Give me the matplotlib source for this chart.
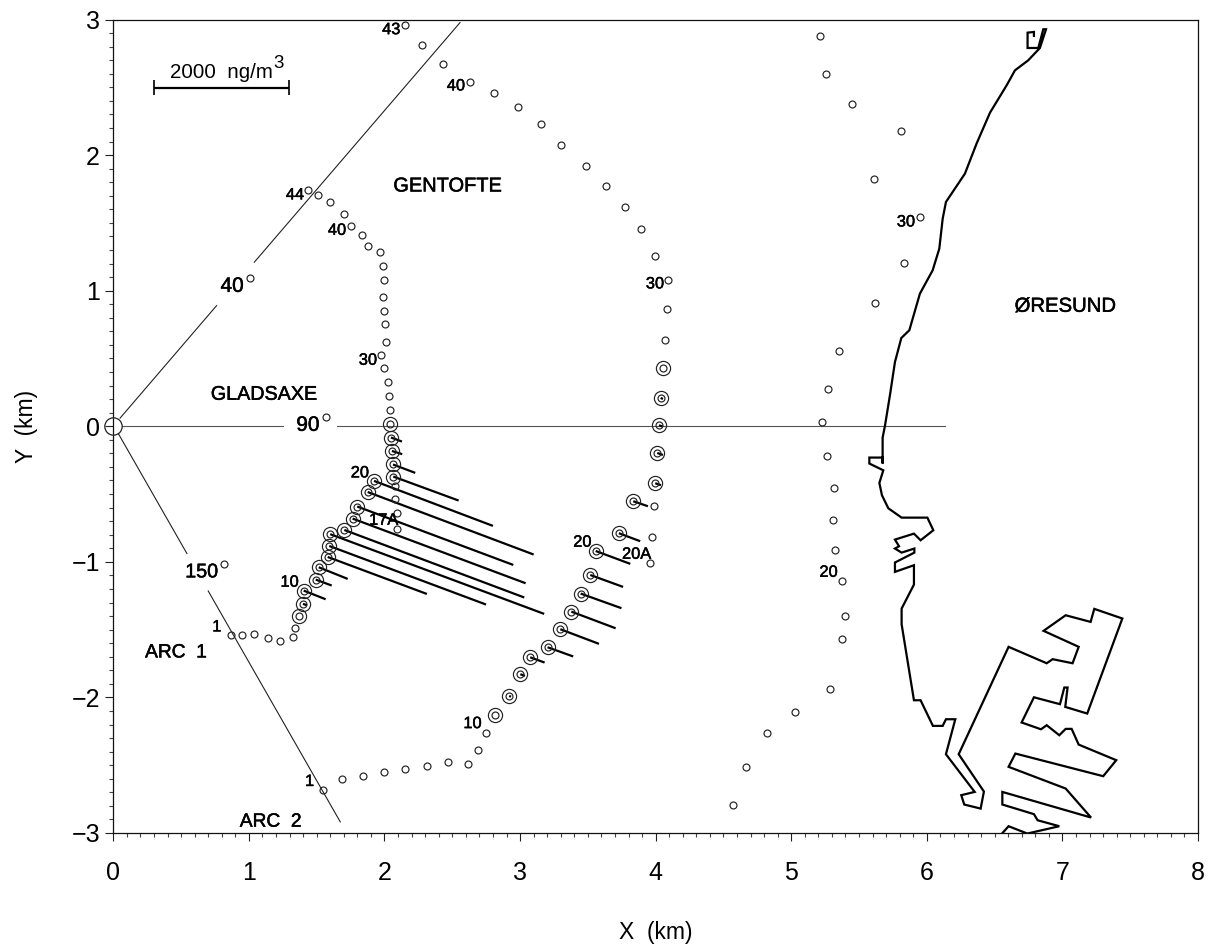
import matplotlib
matplotlib.use("Agg")
import matplotlib.pyplot as plt
import matplotlib.patheffects as pe
from matplotlib.ticker import MultipleLocator

plt.rcParams['font.family'] = ['Liberation Sans', 'DejaVu Sans']

# Receptors without a measured plume
small_x = [0.866,0.949,1.035,1.141,1.232,1.323,1.342,2.038,2.031,2.023,1.999,1.976,2.009,2.001,1.996,1.989,1.994,1.987,1.967,1.878,1.831,1.75,1.698,1.595,1.507,1.438,
           2.08,2.08,2.09,2.095,
           1.546,1.689,1.839,1.999,2.153,2.311,2.468,2.616,2.69,2.746,3.958,3.971,3.985,
           4.066,4.083,4.093,3.997,3.892,3.774,3.633,3.486,3.302,3.152,2.987,2.805,2.628,2.431,2.274,2.151,
           5.212,5.258,5.45,5.809,5.607,5.951,5.829,5.617,5.352,5.268,5.226,5.261,5.312,5.305,5.322,5.374,5.394,5.376,5.285,5.027,4.823,4.666,4.570,
           1.008,1.566,0.819]
small_y = [-1.543,-1.541,-1.532,-1.561,-1.586,-1.556,-1.487,0.118,0.223,0.33,0.433,0.526,0.625,0.757,0.853,0.954,1.082,1.185,1.285,1.332,1.408,1.48,1.566,1.657,1.706,1.74,
           -0.44,-0.535,-0.64,-0.76,
           -2.68,-2.603,-2.579,-2.552,-2.527,-2.505,-2.48,-2.49,-2.389,-2.259,-1.01,-0.819,-0.585,
           0.639,0.865,1.082,1.254,1.458,1.615,1.77,1.92,2.077,2.229,2.353,2.461,2.542,2.67,2.81,2.962,
           2.878,2.601,2.38,2.176,1.827,1.546,1.207,0.912,0.558,0.278,0.035,-0.219,-0.455,-0.691,-0.912,-1.141,-1.399,-1.571,-1.94,-2.107,-2.259,-2.513,-2.795,
           1.09,0.066,-1.018]

# Receptors with a measured plume (line start, line end)
conc_x = [2.048,2.055,2.063,2.065,1.923,1.876,1.799,1.765,1.704,1.60,1.593,1.581,1.515,1.493,1.404,1.399,
          2.92,3.002,3.075,3.203,3.297,3.378,3.447,3.518,3.558,3.729,3.835,3.997,4.012,4.024,4.037]
conc_y = [-0.083,-0.182,-0.282,-0.371,-0.403,-0.485,-0.592,-0.681,-0.765,-0.796,-0.883,-0.964,-1.04,-1.131,-1.212,-1.31,
          -1.989,-1.829,-1.704,-1.63,-1.497,-1.367,-1.234,-1.097,-0.92,-0.789,-0.553,-0.42,-0.197,0.007,0.209]
end_x = [2.129,2.131,2.227,2.547,2.80,3.10,2.95,3.041,3.031,3.178,2.749,2.313,1.729,1.611,1.566,1.428,
         2.933,3.036,3.181,3.392,3.582,3.705,3.748,3.76,3.813,3.886,3.943,4.039,4.054,4.052,4.054]
end_y = [-0.113,-0.206,-0.344,-0.548,-0.735,-0.946,-1.023,-1.158,-1.263,-1.384,-1.315,-1.237,-1.126,-1.175,-1.276,-1.32,
         -1.995,-1.841,-1.743,-1.698,-1.605,-1.49,-1.342,-1.185,-1.015,-0.848,-0.59,-0.435,-0.212,-0.002,0.201]

# Double circles with no plume line
zero_x = [2.043,1.369,2.817,4.052]
zero_y = [0.02,-1.403,-2.131,0.43]

coast_x = [6.790,6.790,6.743,6.743,6.822,6.859,6.879,6.834,6.748,6.650,6.589,6.466,6.367,6.281,6.141,6.117,6.092,6.043,5.949,5.871,5.812,5.765,5.728,5.691,
           5.674,5.674,5.674,5.576,5.576,5.679,5.650,5.669,5.716,5.814,6.004,6.048,5.954,5.905,5.765,5.795,5.765,5.814,5.908,5.908,5.765,5.765,5.905,5.905,5.814,5.814,
           5.905,5.954,6.045,6.117,6.141,6.210,6.141,6.353,6.254,6.276,6.397,6.421,6.235,6.603,6.884,6.928,7.075,7.120,6.861,7.024,7.208,7.235,7.442,7.183,7.021,7.038,7.014,6.982,
           6.790,6.699,6.842,6.884,6.977,7.024,7.068,7.120,7.397,7.301,6.653,6.603,7.024,7.211,6.557,6.557,6.790,6.817,6.977,6.741,6.603,6.559]
coast_y = [2.879,2.908,2.903,2.790,2.790,2.928,2.928,2.790,2.699,2.625,2.515,2.313,2.085,1.863,1.654,1.531,1.310,1.150,0.978,0.708,0.651,0.474,0.229,0.002,
           -0.084,-0.275,-0.231,-0.231,-0.275,-0.325,-0.418,-0.509,-0.605,-0.674,-0.674,-0.767,-0.841,-0.792,-0.836,-0.885,-0.902,-0.932,-0.902,-0.932,-1.005,-1.074,-1.025,-1.168,-1.345,-1.460,
           -2.021,-2.021,-2.210,-2.210,-2.161,-2.161,-2.419,-2.697,-2.721,-2.790,-2.820,-2.694,-2.419,-1.627,-1.748,-1.718,-1.748,-1.627,-1.509,-1.394,-1.443,-1.347,-1.418,-2.119,-2.070,-1.927,-1.927,-2.050,
           -1.999,-2.185,-2.235,-2.205,-2.279,-2.232,-2.232,-2.348,-2.463,-2.581,-2.414,-2.512,-2.672,-2.886,-2.697,-2.790,-2.861,-2.906,-2.950,-3.004,-2.950,-2.999]

ray_segments = [([0.05,0.762],[0.06,0.89],'#222222'),
                ([1.04,2.557],[1.21,2.977],'#222222'),
                ([0.064,1.249],[0.0,0.0],'#555555'),
                ([1.651,6.133],[0.0,0.0],'#555555'),
                ([0.037,0.543],[-0.054,-0.939],'#222222'),
                ([0.70,1.674],[-1.215,-2.918],'#222222')]

small_labels = [("43",2.05,2.925),("40",2.527,2.51),("44",1.34,1.706),("40",1.65,1.445),("30",1.878,0.487),
                ("30",3.995,1.05),("30",5.846,1.507),("20",1.819,-0.344),("17A",1.994,-0.693),("10",1.30,-1.15),
                ("1",0.763,-1.48),("1",1.447,-2.62),("10",2.649,-2.193),("20",3.46,-0.855),("20A",3.86,-0.944),("20",5.276,-1.077)]
big_labels = [("40",0.877,1.032,15),("90",1.436,0.007,15),("150",0.652,-1.074,14.2),("ARC  1",0.462,-1.672,13.8),
              ("ARC  2",1.161,-2.92,13.8),("GENTOFTE",2.465,1.772,14.4),("GLADSAXE",1.111,0.236,14.2),("ØRESUND",7.02,0.885,14.6)]

heavy = [pe.withStroke(linewidth=0.35, foreground='black')]

W, H = 1223, 952
fig = plt.figure(figsize=(W/100, H/100), dpi=100)
ax = fig.add_axes([113.3/W, (H-833)/H, (1198-113.3)/W, (833-19.5)/H])
ax.set_xlim(0, 8)
ax.set_ylim(-3, 3)

for xs, ys, col in ray_segments:
    ax.plot(xs, ys, color=col, lw=0.8, zorder=2)
ax.plot([0],[0], 'o', ms=12.5, mfc='none', mec='#222222', mew=0.9, zorder=3, clip_on=False)

ax.plot(coast_x, coast_y, color='black', lw=1.6, solid_joinstyle='miter', zorder=3)

for x0, y0, x1, y1 in zip(conc_x, conc_y, end_x, end_y):
    ax.plot([x0, x1], [y0, y1], color='black', lw=1.6, solid_capstyle='butt', zorder=4)

ax.plot(small_x, small_y, 'o', ms=5, mfc='none', mec='#222222', mew=0.85, ls='none', zorder=5, clip_on=False)
dbl_x = conc_x + zero_x
dbl_y = conc_y + zero_y
ax.plot(dbl_x, dbl_y, 'o', ms=5, mfc='none', mec='#222222', mew=0.85, ls='none', zorder=5)
ax.plot(dbl_x, dbl_y, 'o', ms=10.2, mfc='none', mec='#222222', mew=0.85, ls='none', zorder=5)

# Scale bar
ax.plot([0.302, 1.298], [2.498, 2.498], color='black', lw=1.6, solid_capstyle='butt')
ax.plot([0.302, 0.302], [2.445, 2.551], color='black', lw=1.2, solid_capstyle='butt')
ax.plot([1.298, 1.298], [2.445, 2.551], color='black', lw=1.2, solid_capstyle='butt')
ax.text(0.418, 2.571, "2000  ng/m", fontsize=14.8, ha='left', va='baseline')
ax.text(1.178, 2.642, "3", fontsize=13.5, ha='left', va='baseline')

for s, x, y in small_labels:
    ax.text(x, y, s, fontsize=11.8, ha='center', va='center', zorder=6, path_effects=heavy)
for s, x, y, fs in big_labels:
    ax.text(x, y, s, fontsize=fs, ha='center', va='center', zorder=6, path_effects=heavy)

ax.xaxis.set_major_locator(MultipleLocator(1))
ax.xaxis.set_minor_locator(MultipleLocator(0.1))
ax.yaxis.set_major_locator(MultipleLocator(1))
ax.yaxis.set_minor_locator(MultipleLocator(0.1))
ax.tick_params(axis='both', which='major', direction='out', length=5.5, width=0.8, labelsize=18, color='#222222')
ax.tick_params(axis='both', which='minor', direction='out', length=3, width=0.8, color='#444444')
ax.tick_params(axis='x', which='major', pad=15)
ax.tick_params(axis='y', which='major', pad=4)
for sp in ax.spines.values():
    sp.set_linewidth(0.9)
    sp.set_color('#111111')

ax.set_xlabel("X  (km)", fontsize=16.5)
ax.set_ylabel("Y  (km)", fontsize=16.5)
ax.xaxis.set_label_coords(0.5, -(933-833)/813.5)
ax.yaxis.set_label_coords(-(113.3-27)/1084.7, 0.5)
ax.xaxis.label.set_va('center')
ax.yaxis.label.set_va('center')

fig.savefig("out.png", dpi=100, facecolor='white')
